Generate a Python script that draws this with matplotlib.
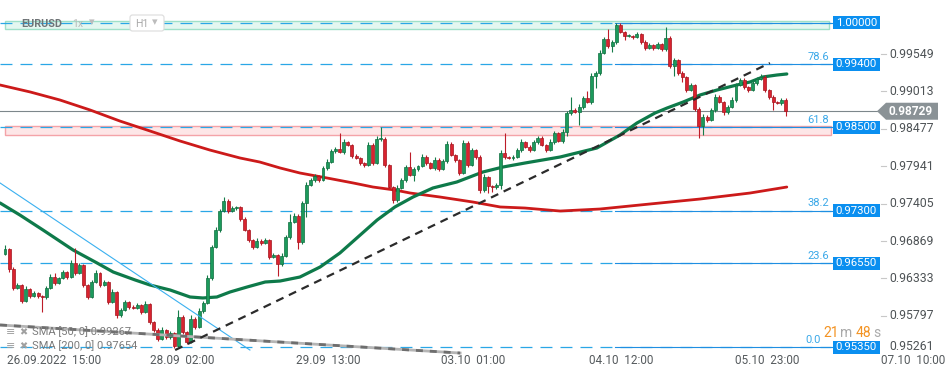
import numpy as np
import matplotlib.pyplot as plt
from matplotlib.patches import Rectangle, Polygon, FancyBboxPatch

plt.rcParams['font.family'] = ['Roboto', 'DejaVu Sans']
plt.rcParams['lines.scale_dashes'] = False

# --- data (EURUSD, H1) ---
first_open = 0.96683
closes = [
    0.96755, 0.96468, 0.96196, 0.96239, 0.96010, 0.96182, 0.96081, 0.96124, 0.96081, 0.96067,
    0.96196, 0.96353, 0.96267, 0.96339, 0.96425, 0.96353, 0.96554, 0.96411, 0.96525, 0.96239,
    0.96067, 0.96282, 0.96411, 0.96239, 0.96282, 0.95995, 0.96139, 0.95809, 0.95881, 0.95995,
    0.95924, 0.95909, 0.95952, 0.95852, 0.95967, 0.95709, 0.95594, 0.95465, 0.95594, 0.95494,
    0.95551, 0.95365, 0.95780, 0.95565, 0.95422, 0.95752, 0.95637, 0.95866, 0.95981, 0.96339,
    0.96783, 0.97027, 0.97299, 0.97443, 0.97299, 0.97342, 0.97357, 0.97185, 0.97027, 0.96884,
    0.96783, 0.96870, 0.96841, 0.96884, 0.96640, 0.96669, 0.96540, 0.96655, 0.96927, 0.97142,
    0.97228, 0.96855, 0.97414, 0.97672, 0.97744, 0.97801, 0.97744, 0.97915, 0.98001, 0.98159,
    0.98188, 0.98145, 0.98288, 0.98245, 0.98087, 0.98059, 0.97987, 0.97959, 0.98245, 0.97987,
    0.98331, 0.98331, 0.97959, 0.97643, 0.97457, 0.97629, 0.97744, 0.97930, 0.97815, 0.97901,
    0.97944, 0.98073, 0.97987, 0.97915, 0.98030, 0.97901, 0.98016, 0.98259, 0.98102, 0.98030,
    0.97844, 0.98274, 0.97959, 0.98173, 0.98073, 0.97600, 0.97787, 0.97658, 0.97643, 0.97672,
    0.98130, 0.98073, 0.98059, 0.98073, 0.98173, 0.98288, 0.98216, 0.98173, 0.98288, 0.98345,
    0.98245, 0.98173, 0.98288, 0.98417, 0.98302, 0.98431, 0.98704, 0.98747, 0.98718, 0.98790,
    0.98919, 0.98861, 0.99234, 0.99277, 0.99564, 0.99764, 0.99664, 0.99721, 0.99965, 0.99864,
    0.99807, 0.99807, 0.99793, 0.99836, 0.99721, 0.99635, 0.99678, 0.99635, 0.99692, 0.99621,
    0.99778, 0.99377, 0.99463, 0.99277, 0.99220, 0.99033, 0.99105, 0.98761, 0.98517, 0.98646,
    0.98603, 0.98747, 0.98933, 0.98861, 0.98718, 0.98790, 0.98890, 0.99105, 0.99177, 0.99076,
    0.99033, 0.99134, 0.99191, 0.99220, 0.99033, 0.98933, 0.98861, 0.98847, 0.98890, 0.98729,
]
# wick lengths beyond the candle body, in pips
upper_wick = [
    6, 2, 3, 3, 2, 4, 2, 3, 2, 2,
    3, 4, 6, 2, 3, 2, 4, 21, 3, 2,
    2, 3, 4, 2, 3, 2, 4, 2, 3, 3,
    2, 3, 3, 2, 4, 2, 2, 3, 4, 2,
    3, 2, 10, 3, 2, 5, 3, 4, 3, 4,
    3, 4, 3, 6, 3, 3, 2, 2, 3, 2,
    2, 4, 3, 3, 2, 3, 2, 4, 3, 12,
    4, 3, 3, 4, 3, 3, 2, 3, 4, 3,
    3, 23, 4, 2, 2, 3, 2, 2, 5, 3,
    4, 17, 3, 2, 2, 4, 3, 3, 21, 3,
    2, 4, 3, 2, 4, 3, 3, 5, 3, 2,
    2, 4, 3, 3, 2, 3, 4, 2, 2, 3,
    4, 29, 2, 3, 3, 4, 2, 3, 3, 3,
    3, 2, 4, 3, 2, 4, 3, 19, 3, 4,
    3, 10, 5, 3, 4, 3, 14, 3, 3, 3,
    2, 3, 2, 3, 2, 3, 3, 2, 3, 2,
    16, 3, 3, 2, 3, 2, 3, 2, 3, 4,
    3, 3, 4, 3, 2, 3, 4, 3, 3, 3,
    2, 3, 3, 4, 3, 2, 3, 2, 3, 3,
]
lower_wick = [
    2, 4, 3, 2, 3, 2, 3, 2, 3, 21,
    3, 2, 3, 2, 2, 3, 2, 3, 2, 3,
    3, 2, 2, 3, 2, 3, 2, 4, 3, 2,
    3, 2, 2, 3, 2, 3, 3, 3, 2, 3,
    3, 3, 2, 3, 3, 2, 3, 2, 3, 2,
    3, 2, 3, 2, 3, 2, 3, 3, 2, 3,
    3, 2, 3, 2, 3, 2, 17, 3, 2, 3,
    2, 10, 3, 20, 2, 3, 3, 2, 3, 2,
    3, 2, 3, 2, 3, 2, 3, 3, 2, 3,
    2, 3, 3, 2, 4, 3, 2, 3, 2, 8,
    3, 2, 3, 2, 3, 3, 2, 3, 2, 3,
    3, 2, 3, 2, 3, 4, 3, 10, 7, 3,
    6, 3, 2, 3, 2, 3, 2, 3, 2, 3,
    2, 3, 2, 3, 2, 3, 6, 3, 2, 19,
    3, 2, 3, 17, 3, 2, 3, 9, 3, 2,
    6, 2, 3, 2, 3, 3, 2, 3, 2, 3,
    3, 3, 15, 3, 7, 3, 2, 3, 17, 13,
    3, 2, 3, 2, 5, 3, 2, 3, 2, 3,
    3, 2, 3, 2, 3, 3, 11, 2, 3, 7,
]

# moving averages (candle index, price)
sma50_idx = [-1.2, 3.6, 9.2, 16.5, 22.3, 26.2, 31.5, 35.1, 40.0, 44.8, 47.9, 51.3, 54.5,
             58.6, 63.0, 66.6, 71.4, 76.3, 81.1, 86.0, 90.1, 94.4, 98.8, 103.6, 109.4,
             115.7, 120.6, 125.9, 134.4, 143.3, 148.9, 153.0, 157.4, 160.3, 164.2, 168.3,
             172.4, 177.2, 180.4, 183.5, 186.9, 189.3]
sma50_val = [0.97414, 0.97242, 0.97027, 0.96740, 0.96554, 0.96425, 0.96311, 0.96239,
             0.96167, 0.96067, 0.96053, 0.96067, 0.96139, 0.96210, 0.96282, 0.96296,
             0.96353, 0.96497, 0.96698, 0.96955, 0.97170, 0.97357, 0.97500, 0.97629,
             0.97715, 0.97858, 0.97930, 0.97987, 0.98073, 0.98202, 0.98388, 0.98560,
             0.98704, 0.98775, 0.98861, 0.98962, 0.99033, 0.99105, 0.99148, 0.99220,
             0.99248, 0.99263]
sma200_idx = [-1.2, 6.1, 13.3, 20.6, 27.8, 35.1, 42.4, 49.6, 56.9, 61.7, 66.6, 71.4, 78.0,
              84.3, 89.1, 94.4, 98.1, 105.3, 113.3, 119.9, 125.9, 134.4, 144.1, 156.2,
              168.3, 180.4, 189.3]
sma200_val = [0.99105, 0.99005, 0.98890, 0.98747, 0.98589, 0.98446, 0.98302, 0.98173,
              0.98059, 0.98001, 0.97916, 0.97844, 0.97772, 0.97701, 0.97643, 0.97600,
              0.97557, 0.97500, 0.97428, 0.97357, 0.97342, 0.97299, 0.97328, 0.97400,
              0.97471, 0.97557, 0.97643]
sma50_last = 0.99267
sma200_last = 0.97654

fib_prices = [1.00000, 0.99400, 0.98500, 0.97300, 0.96550, 0.95350]
fib_names = ['', '78.6', '61.8', '38.2', '23.6', '0.0']
axis_ticks = [0.99549, 0.99013, 0.98477, 0.97941, 0.97405, 0.96869, 0.96333, 0.95797]
axis_bottom_label = '0.95261'
last_price = 0.98729

zone_resist = (0.99905, 1.00020)
zone_support = (0.98390, 0.98520)
trend_black = ([41.2, 185.2], [0.95307, 0.99420])
trend_blue = ([-1.2, 59.3], [0.97701, 0.95307])
trend_gray = ([-1.2, 110.2], [0.95666, 0.95264])

time_pos = [11.9, 42.9, 78.2, 113.3, 149.2, 184.5, 219.9]
time_labels = ['26.09.2022  15:00', '28.09  02:00', '29.09  13:00', '03.10  01:00',
               '04.10  12:00', '05.10  23:00', '07.10  10:00']

PIP = 0.0001

# --- pixel helpers for layout ---
W, H = 949, 378
def X(px):
    return (px - 5) / 4.13
def Y(py):
    return 1.00323 - 0.0001433 * py
PX = 0.0001433

fig = plt.figure(figsize=(W / 100, H / 100), dpi=100)
ax = fig.add_axes([0, 0, 1, 1])
ax.set_xlim(X(0), X(W))
ax.set_ylim(Y(H), Y(0))
ax.axis('off')

# zones
ax.add_patch(Rectangle((X(5), zone_resist[0]), X(829) - X(5), zone_resist[1] - zone_resist[0],
                       facecolor='#e4f7f0', edgecolor='#9fe0c8', lw=1, zorder=1))
ax.add_patch(Rectangle((X(5), zone_support[0]), X(831) - X(5), zone_support[1] - zone_support[0],
                       facecolor='#fde6e7', edgecolor='#f4a3a8', lw=1, zorder=1))

# fibo dashed levels + solid segments
for p in fib_prices:
    ax.plot([X(0), X(831)], [p, p], color='#2aa7e6', lw=0.9, ls=(0, (8.6, 5.8)), zorder=2)
    ax.plot([X(615), X(834)], [p, p], color='#1f8fe2', lw=0.8, zorder=2)

# current price line
ax.plot([X(0), X(880)], [last_price, last_price], color='#7d878b', lw=0.8, zorder=2)

# moving averages
ax.plot(sma200_idx, sma200_val, color='#cc1a1a', lw=2.0, zorder=3, solid_capstyle='round')
ax.plot(sma50_idx, sma50_val, color='#0e7a4a', lw=2.3, zorder=3, solid_capstyle='round')

# candles
c = np.array(closes)
o = np.array([first_open] + closes[:-1])
idx = np.arange(len(c))
hi = np.maximum(o, c) + np.array(upper_wick) * PIP
lo = np.minimum(o, c) - np.array(lower_wick) * PIP
up = c >= o
dn = ~up
ax.vlines(idx[up], lo[up], hi[up], color='#157c49', lw=0.8, zorder=4)
ax.vlines(idx[dn], lo[dn], hi[dn], color='#bd1c28', lw=0.8, zorder=4)
ax.bar(idx[up], np.maximum(c - o, PX)[up], bottom=o[up], width=0.72,
       color='#1c9a5c', edgecolor='#0f6e3f', lw=0.5, zorder=5)
ax.bar(idx[dn], np.maximum(o - c, PX)[dn], bottom=c[dn], width=0.72,
       color='#d9232f', edgecolor='#a3151f', lw=0.5, zorder=5)

# trend lines
ax.plot(*trend_blue, color='#3ab0f0', lw=0.8, zorder=6)
ax.plot(*trend_gray, color='#b5b5b5', lw=2.0, zorder=6)
ax.plot(*trend_gray, color='#6e6e6e', lw=2.0, ls=(0, (5, 5)), zorder=6)
ax.plot(*trend_black, color='#2b2b2b', lw=1.6, ls=(0, (5.8, 4.3)), zorder=6)

# fibo labels and price boxes
for p, name in zip(fib_prices, fib_names):
    if name:
        right = 829 if name != '0.0' else 821
        ax.text(X(right), p + 7.5 * PX, name, color='#3aa8e8', fontsize=8,
                ha='right', va='center', zorder=7)
    ax.add_patch(Rectangle((X(833), p - 6.5 * PX), X(880) - X(833), 13 * PX,
                           facecolor='#0a8ff0', edgecolor='none', zorder=8, clip_on=False))
    ax.text(X(856.5), p, f'{p:.5f}', color='white', fontsize=8.2,
            ha='center', va='center', zorder=9)

# right axis labels
for t in axis_ticks:
    ax.plot([X(881), X(886)], [t, t], color='#c8c8c8', lw=0.8)
    ax.text(X(889), t, f'{t:.5f}', color='#4e5356', fontsize=8.8, ha='left', va='center')
ax.text(X(889), Y(347), axis_bottom_label, color='#4e5356', fontsize=8.8, ha='left', va='center')

# current price marker
ax.add_patch(Polygon([(X(877), last_price), (X(886), last_price + 8.5 * PX),
                      (X(938), last_price + 8.5 * PX), (X(938), last_price - 8.5 * PX),
                      (X(886), last_price - 8.5 * PX)],
                     closed=True, facecolor='#8a9296', edgecolor='none', zorder=8))
ax.text(X(911), last_price, f'{last_price:.5f}', color='white', fontsize=8.6,
        fontweight='bold', ha='center', va='center', zorder=9)

# countdown
for px, s, col in [(823, '21', '#f39323'), (840, 'm', '#a9a9a9'),
                   (856, '48', '#f39323'), (873, 's', '#a9a9a9')]:
    ax.text(X(px), Y(333), s, color=col, fontsize=10, ha='left', va='center', zorder=10)

# time axis
for tp, tl in zip(time_pos, time_labels):
    ax.text(tp, Y(361), tl, color='#555a5d', fontsize=8.5, ha='center', va='center')

# SMA legend
for py, label in [(332, f'SMA [50, 0] {sma50_last:.5f}'), (346, f'SMA [200, 0] {sma200_last:.5f}')]:
    ax.text(X(6), Y(py), '≡', color='#a0a0a0', fontsize=8, ha='left', va='center', zorder=7)
    ax.text(X(19), Y(py), '✖', color='#a0a0a0', fontsize=7, ha='left', va='center', zorder=7)
    ax.text(X(32), Y(py), label, color='#7a7a7a', fontsize=8, ha='left', va='center', zorder=7)

# top-left header
ax.text(X(21), Y(24), 'EURUSD', color='#6f7477', fontsize=7.8, fontweight='bold',
        ha='left', va='center', zorder=10)
ax.text(X(72), Y(24), '1x', color='#b9b9b9', fontsize=7.6, ha='left', va='center', zorder=10)
ax.text(X(89), Y(22), '▾', color='#bcbcbc', fontsize=8, ha='left', va='center', zorder=10)
ax.add_patch(FancyBboxPatch((X(130), Y(31)), X(164) - X(130), 16 * PX,
                            boxstyle='round,pad=0,rounding_size=0.6', facecolor='white',
                            edgecolor='#dcdcdc', lw=0.8, zorder=9, mutation_aspect=PX * 4.13))
ax.text(X(135), Y(24), 'H1', color='#a9a9a9', fontsize=7.6, ha='left', va='center', zorder=10)
ax.text(X(152), Y(22), '▾', color='#bcbcbc', fontsize=8, ha='left', va='center', zorder=10)

fig.savefig('out.png', dpi=100, facecolor='white')
